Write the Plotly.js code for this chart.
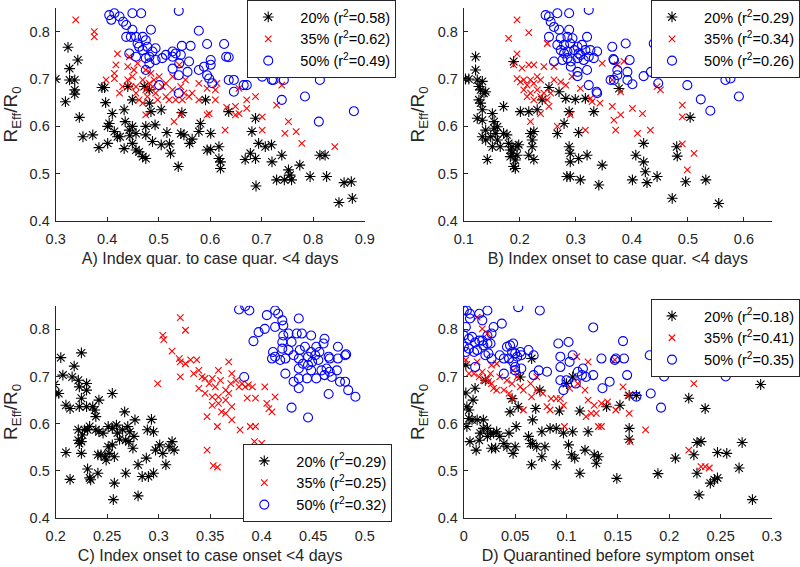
<!DOCTYPE html>
<html>
<head>
<meta charset="utf-8">
<script src="https://cdn.plot.ly/plotly-3.0.1.min.js"></script>
<style>html,body{margin:0;padding:0;background:#fff;}#chart{width:800px;height:567px;}</style>
</head>
<body>
<div id="chart"></div>
<script>
// ---------- Tick labels ----------
var tickA = [0.3,0.4,0.5,0.6,0.7,0.8,0.9];
var tickB = [0.1,0.2,0.3,0.4,0.5,0.6];
var tickC = [0.2,0.25,0.3,0.35,0.4,0.45,0.5];
var tickD = [0,0.05,0.1,0.15,0.2,0.25,0.3];
var tickY = [0.4,0.5,0.6,0.7,0.8];
var tickAtext = ["0.3","0.4","0.5","0.6","0.7","0.8","0.9"];
var tickBtext = ["0.1","0.2","0.3","0.4","0.5","0.6"];
var tickCtext = ["0.2","0.25","0.3","0.35","0.4","0.45","0.5"];
var tickDtext = ["0","0.05","0.1","0.15","0.2","0.25","0.3"];
var tickYtext = ["0.4","0.5","0.6","0.7","0.8"];

// ---------- Legend names ----------
var namesA = ["20% (r<sup>2</sup>=0.58)","35% (r<sup>2</sup>=0.62)","50% (r<sup>2</sup>=0.49)"];
var namesB = ["20% (r<sup>2</sup>=0.29)","35% (r<sup>2</sup>=0.34)","50% (r<sup>2</sup>=0.26)"];
var namesC = ["20% (r<sup>2</sup>=0.29)","35% (r<sup>2</sup>=0.25)","50% (r<sup>2</sup>=0.32)"];
var namesD = ["20% (r<sup>2</sup>=0.18)","35% (r<sup>2</sup>=0.41)","50% (r<sup>2</sup>=0.35)"];

var xTitles = ["A) Index quar. to case quar. <4 days","B) Index onset to case quar. <4 days","C) Index onset to case onset <4 days","D) Quarantined before symptom onset"];
var yTitle = "R<sub>Eff</sub>/R<sub>0</sub>";

// ---------- Panel A ----------
var aX20 = [0.324,0.30,0.327,0.327,0.337,0.343,0.337,0.337,0.319,0.346,0.353,0.372,0.384,0.39,0.395,0.397,0.401,0.401,0.404,0.41,0.414,0.42,0.425,0.433,0.433,0.435,0.44,0.443,0.444,0.449,0.449,0.449,0.456,0.456,0.462,0.469,0.472,0.475,0.475,0.482,0.482,0.485,0.475,0.488,0.493,0.505,0.505,0.516,0.521,0.523,0.538,0.543,0.545,0.549,0.56,0.565,0.578,0.581,0.591,0.594,0.601,0.601,0.617,0.617,0.62,0.62,0.636,0.668,0.678,0.681,0.688,0.688,0.689,0.694,0.707,0.719,0.72,0.729,0.739,0.744,0.752,0.755,0.758,0.774,0.794,0.813,0.823,0.826,0.85,0.86,0.874,0.876];
var aY20 = [0.767,0.70,0.722,0.698,0.698,0.740,0.677,0.668,0.652,0.619,0.578,0.582,0.555,0.682,0.682,0.650,0.60,0.564,0.606,0.627,0.589,0.578,0.578,0.635,0.553,0.61,0.684,0.592,0.580,0.656,0.60,0.564,0.585,0.55,0.546,0.536,0.684,0.532,0.60,0.677,0.649,0.631,0.582,0.568,0.603,0.635,0.561,0.587,0.563,0.543,0.515,0.585,0.629,0.582,0.564,0.573,0.589,0.606,0.656,0.55,0.585,0.551,0.557,0.532,0.511,0.525,0.631,0.53,0.543,0.589,0.617,0.532,0.474,0.564,0.557,0.561,0.525,0.487,0.539,0.487,0.508,0.497,0.487,0.518,0.494,0.539,0.539,0.494,0.439,0.481,0.483,0.448];
var aX35 = [0.339,0.375,0.375,0.42,0.417,0.414,0.414,0.398,0.443,0.44,0.44,0.43,0.424,0.449,0.456,0.456,0.462,0.469,0.475,0.475,0.478,0.482,0.485,0.488,0.491,0.494,0.498,0.501,0.507,0.514,0.514,0.52,0.527,0.527,0.53,0.533,0.54,0.543,0.546,0.549,0.543,0.552,0.559,0.565,0.578,0.578,0.594,0.598,0.594,0.61,0.61,0.613,0.632,0.629,0.649,0.656,0.649,0.671,0.671,0.688,0.701,0.701,0.729,0.739,0.752,0.745,0.767,0.778,0.842,0.656,0.469,0.475,0.446,0.452,0.459];
var aY35 = [0.825,0.80,0.789,0.753,0.73,0.712,0.701,0.698,0.747,0.726,0.698,0.684,0.67,0.705,0.684,0.67,0.656,0.698,0.719,0.677,0.663,0.691,0.712,0.684,0.698,0.67,0.656,0.705,0.684,0.691,0.663,0.656,0.705,0.677,0.61,0.656,0.73,0.684,0.656,0.67,0.624,0.698,0.663,0.67,0.656,0.691,0.624,0.627,0.68,0.656,0.677,0.691,0.64,0.592,0.624,0.627,0.642,0.656,0.638,0.663,0.62,0.592,0.645,0.687,0.61,0.585,0.589,0.564,0.557,0.68,0.649,0.624,0.684,0.719,0.733];
var aX50 = [0.404,0.414,0.424,0.408,0.431,0.437,0.449,0.466,0.539,0.449,0.485,0.437,0.446,0.456,0.469,0.475,0.578,0.459,0.462,0.443,0.469,0.478,0.488,0.494,0.545,0.562,0.594,0.627,0.475,0.482,0.475,0.494,0.507,0.514,0.527,0.533,0.527,0.543,0.527,0.54,0.559,0.556,0.578,0.588,0.601,0.601,0.631,0.636,0.594,0.598,0.604,0.501,0.539,0.539,0.636,0.646,0.646,0.665,0.671,0.681,0.685,0.701,0.701,0.72,0.723,0.743,0.739,0.784,0.811,0.813,0.879,0.456,0.482];
var aY50 = [0.835,0.839,0.832,0.825,0.821,0.814,0.839,0.839,0.844,0.804,0.804,0.789,0.789,0.789,0.789,0.782,0.802,0.775,0.768,0.754,0.761,0.768,0.758,0.765,0.77,0.77,0.774,0.774,0.744,0.733,0.719,0.74,0.744,0.751,0.758,0.754,0.747,0.751,0.722,0.733,0.737,0.715,0.719,0.726,0.74,0.73,0.747,0.746,0.708,0.701,0.691,0.687,0.708,0.67,0.698,0.698,0.673,0.687,0.687,0.737,0.715,0.722,0.705,0.698,0.698,0.698,0.656,0.663,0.61,0.698,0.632,0.747,0.747];

// ---------- Panel B ----------
var bX20 = [0.103,0.109,0.121,0.121,0.124,0.127,0.13,0.133,0.127,0.13,0.133,0.136,0.139,0.124,0.133,0.139,0.133,0.139,0.148,0.142,0.151,0.154,0.154,0.157,0.16,0.151,0.16,0.165,0.171,0.171,0.177,0.18,0.183,0.183,0.186,0.189,0.186,0.189,0.192,0.192,0.195,0.195,0.198,0.201,0.216,0.216,0.219,0.222,0.222,0.225,0.225,0.231,0.24,0.252,0.267,0.27,0.279,0.282,0.288,0.288,0.29,0.29,0.284,0.29,0.299,0.305,0.305,0.308,0.317,0.32,0.332,0.341,0.347,0.377,0.401,0.407,0.421,0.421,0.424,0.427,0.445,0.472,0.48,0.481,0.496,0.504,0.532,0.555];
var bY20 = [0.70,0.70,0.747,0.719,0.698,0.684,0.677,0.695,0.656,0.649,0.635,0.67,0.673,0.617,0.613,0.592,0.578,0.571,0.578,0.53,0.627,0.61,0.596,0.585,0.571,0.557,0.599,0.557,0.642,0.585,0.582,0.564,0.536,0.55,0.557,0.737,0.543,0.515,0.529,0.511,0.557,0.539,0.561,0.631,0.539,0.631,0.585,0.571,0.557,0.53,0.589,0.635,0.656,0.682,0.585,0.673,0.606,0.659,0.631,0.557,0.543,0.525,0.494,0.494,0.657,0.587,0.532,0.487,0.659,0.539,0.631,0.476,0.518,0.68,0.487,0.539,0.564,0.525,0.504,0.481,0.494,0.448,0.557,0.537,0.483,0.619,0.487,0.437];
var bX35 = [0.18,0.195,0.216,0.195,0.189,0.204,0.216,0.225,0.195,0.201,0.207,0.213,0.219,0.225,0.231,0.237,0.207,0.213,0.219,0.225,0.231,0.237,0.243,0.249,0.252,0.255,0.243,0.249,0.261,0.261,0.273,0.237,0.219,0.29,0.293,0.308,0.317,0.326,0.329,0.343,0.347,0.365,0.368,0.371,0.38,0.374,0.365,0.38,0.386,0.401,0.41,0.419,0.433,0.445,0.451,0.49,0.49,0.49,0.499,0.511,0.267,0.282];
var bY35 = [0.786,0.825,0.798,0.753,0.73,0.723,0.73,0.73,0.701,0.694,0.698,0.687,0.698,0.691,0.705,0.698,0.677,0.663,0.67,0.656,0.677,0.663,0.67,0.656,0.642,0.67,0.726,0.775,0.726,0.698,0.694,0.627,0.61,0.624,0.705,0.68,0.592,0.659,0.652,0.649,0.733,0.642,0.613,0.592,0.624,0.73,0.698,0.673,0.737,0.638,0.585,0.627,0.592,0.684,0.677,0.645,0.62,0.563,0.508,0.543,0.60,0.687];
var bX50 = [0.246,0.252,0.255,0.267,0.288,0.323,0.261,0.27,0.288,0.252,0.273,0.285,0.294,0.32,0.267,0.279,0.29,0.303,0.311,0.273,0.285,0.297,0.305,0.317,0.326,0.338,0.261,0.276,0.285,0.291,0.303,0.314,0.323,0.332,0.291,0.303,0.303,0.32,0.323,0.337,0.338,0.365,0.389,0.367,0.368,0.396,0.374,0.374,0.392,0.362,0.368,0.392,0.401,0.421,0.434,0.439,0.447,0.454,0.502,0.499,0.523,0.54,0.567,0.576,0.591,0.308,0.279];
var bY50 = [0.835,0.832,0.821,0.839,0.839,0.846,0.81,0.804,0.804,0.789,0.786,0.789,0.786,0.789,0.772,0.772,0.775,0.768,0.772,0.761,0.758,0.761,0.754,0.761,0.761,0.758,0.737,0.74,0.744,0.737,0.744,0.74,0.747,0.744,0.726,0.715,0.706,0.719,0.687,0.673,0.67,0.768,0.775,0.742,0.74,0.74,0.719,0.708,0.715,0.698,0.698,0.698,0.689,0.706,0.715,0.775,0.691,0.726,0.722,0.687,0.657,0.633,0.698,0.701,0.663,0.751,0.754];

// ---------- Panel C ----------
var cX20 = [0.199,0.2,0.203,0.205,0.207,0.21,0.21,0.214,0.214,0.216,0.218,0.222,0.225,0.223,0.225,0.223,0.222,0.222,0.223,0.225,0.225,0.23,0.23,0.23,0.231,0.233,0.234,0.236,0.238,0.239,0.242,0.239,0.241,0.242,0.241,0.244,0.246,0.248,0.249,0.251,0.252,0.251,0.255,0.255,0.255,0.257,0.257,0.256,0.259,0.26,0.262,0.267,0.268,0.27,0.268,0.271,0.272,0.275,0.276,0.277,0.28,0.28,0.284,0.288,0.289,0.29,0.293,0.295,0.295,0.297,0.301,0.304,0.307,0.31,0.313,0.315,0.228,0.231,0.233,0.226,0.265];
var cY20 = [0.683,0.664,0.664,0.74,0.703,0.639,0.539,0.482,0.632,0.699,0.722,0.692,0.75,0.678,0.654,0.636,0.587,0.565,0.558,0.562,0.537,0.685,0.671,0.636,0.504,0.485,0.481,0.636,0.629,0.615,0.65,0.587,0.495,0.583,0.534,0.534,0.58,0.53,0.523,0.594,0.537,0.551,0.664,0.59,0.555,0.53,0.474,0.439,0.597,0.58,0.567,0.625,0.495,0.594,0.565,0.562,0.583,0.548,0.573,0.608,0.513,0.447,0.488,0.527,0.587,0.488,0.609,0.583,0.495,0.544,0.555,0.537,0.513,0.551,0.562,0.544,0.587,0.587,0.594,0.576,0.587];
var cX35 = [0.321,0.326,0.304,0.305,0.313,0.32,0.321,0.326,0.321,0.299,0.331,0.337,0.334,0.339,0.342,0.345,0.349,0.352,0.358,0.355,0.36,0.368,0.345,0.352,0.358,0.347,0.358,0.361,0.365,0.368,0.37,0.375,0.378,0.381,0.384,0.387,0.391,0.386,0.394,0.371,0.365,0.371,0.357,0.371,0.389,0.394,0.379,0.347,0.353,0.357,0.393,0.40,0.403,0.405,0.407,0.41,0.413,0.339,0.352,0.365];
var cY35 = [0.825,0.798,0.787,0.778,0.754,0.738,0.731,0.727,0.699,0.685,0.735,0.735,0.706,0.713,0.699,0.696,0.685,0.696,0.713,0.678,0.692,0.731,0.664,0.657,0.657,0.615,0.643,0.625,0.65,0.664,0.685,0.692,0.678,0.685,0.678,0.682,0.678,0.654,0.654,0.636,0.622,0.706,0.594,0.608,0.594,0.594,0.587,0.544,0.511,0.508,0.562,0.558,0.678,0.643,0.632,0.625,0.657,0.675,0.639,0.671];
var cX50 = [0.378,0.384,0.388,0.392,0.405,0.413,0.416,0.413,0.403,0.397,0.42,0.421,0.436,0.421,0.426,0.434,0.439,0.448,0.411,0.413,0.42,0.42,0.426,0.429,0.431,0.423,0.418,0.41,0.423,0.437,0.442,0.445,0.448,0.452,0.453,0.456,0.46,0.465,0.461,0.474,0.481,0.482,0.474,0.466,0.436,0.436,0.44,0.445,0.449,0.455,0.448,0.458,0.463,0.473,0.436,0.444,0.453,0.461,0.466,0.468,0.436,0.476,0.481,0.484,0.491,0.465,0.429,0.445,0.383,0.431];
var cY50 = [0.842,0.849,0.84,0.775,0.83,0.84,0.833,0.805,0.801,0.794,0.819,0.808,0.823,0.787,0.791,0.791,0.791,0.787,0.752,0.742,0.773,0.759,0.756,0.773,0.745,0.738,0.735,0.738,0.706,0.756,0.763,0.742,0.752,0.745,0.763,0.752,0.77,0.742,0.78,0.763,0.745,0.747,0.738,0.738,0.738,0.717,0.727,0.724,0.731,0.735,0.713,0.713,0.717,0.713,0.696,0.696,0.696,0.703,0.71,0.699,0.675,0.689,0.689,0.671,0.657,0.663,0.634,0.613,0.699,0.689];

// ---------- Panel D ----------
var dX20 = [0.002,0.002,0.003,0.003,0.005,0.005,0.006,0.008,0.009,0.011,0.013,0.012,0.015,0.016,0.019,0.019,0.021,0.023,0.023,0.026,0.027,0.029,0.031,0.032,0.035,0.039,0.042,0.044,0.045,0.047,0.048,0.05,0.051,0.055,0.053,0.063,0.065,0.066,0.067,0.067,0.07,0.071,0.066,0.074,0.076,0.076,0.079,0.084,0.09,0.09,0.093,0.097,0.10,0.102,0.105,0.106,0.106,0.108,0.113,0.113,0.118,0.121,0.127,0.129,0.131,0.139,0.149,0.152,0.161,0.161,0.161,0.168,0.189,0.206,0.219,0.224,0.227,0.227,0.231,0.229,0.235,0.24,0.244,0.247,0.247,0.256,0.268,0.271,0.281,0.289];
var dY20 = [0.724,0.665,0.636,0.594,0.611,0.629,0.562,0.608,0.65,0.675,0.608,0.544,0.565,0.58,0.608,0.59,0.692,0.59,0.573,0.58,0.548,0.58,0.548,0.583,0.573,0.558,0.551,0.58,0.625,0.653,0.537,0.551,0.594,0.699,0.636,0.573,0.558,0.513,0.608,0.558,0.632,0.551,0.738,0.671,0.583,0.53,0.551,0.59,0.59,0.513,0.627,0.58,0.685,0.555,0.534,0.699,0.583,0.527,0.627,0.495,0.544,0.583,0.534,0.516,0.53,0.636,0.484,0.639,0.66,0.59,0.567,0.66,0.494,0.527,0.654,0.534,0.495,0.56,0.562,0.449,0.632,0.474,0.481,0.485,0.539,0.537,0.506,0.56,0.439,0.683];
var dX35 = [0.013,0.018,0.023,0.002,0.013,0.005,0.01,0.015,0.018,0.019,0.023,0.024,0.026,0.027,0.027,0.029,0.032,0.032,0.035,0.039,0.042,0.044,0.047,0.048,0.048,0.052,0.055,0.058,0.058,0.065,0.066,0.071,0.071,0.077,0.081,0.084,0.085,0.09,0.094,0.097,0.098,0.103,0.11,0.111,0.118,0.121,0.121,0.119,0.124,0.127,0.129,0.131,0.134,0.134,0.14,0.147,0.148,0.155,0.161,0.162,0.177,0.219,0.224,0.231,0.235,0.239,0.16];
var dY35 = [0.826,0.801,0.791,0.735,0.731,0.706,0.706,0.699,0.71,0.692,0.696,0.689,0.706,0.685,0.724,0.675,0.727,0.671,0.699,0.671,0.692,0.664,0.685,0.713,0.653,0.699,0.678,0.629,0.671,0.685,0.657,0.671,0.699,0.664,0.636,0.629,0.653,0.653,0.653,0.639,0.594,0.675,0.742,0.685,0.671,0.731,0.65,0.615,0.622,0.639,0.622,0.594,0.594,0.643,0.646,0.735,0.629,0.678,0.622,0.562,0.587,0.544,0.685,0.509,0.509,0.506,0.66];
var dX50 = [0,0.002,0.003,0.006,0.006,0.015,0.018,0.023,0.029,0.037,0.053,0.074,0.126,0,0.005,0.008,0.011,0.015,0.018,0.023,0.027,0,0.002,0.005,0.01,0.013,0.019,0.023,0.026,0.024,0.021,0.027,0.035,0.039,0.042,0.045,0.048,0.047,0.05,0.052,0.044,0.048,0.055,0.056,0.063,0.068,0.05,0.05,0.056,0.039,0.011,0.068,0.073,0.081,0.092,0.102,0.094,0.103,0.106,0.094,0.094,0.097,0.10,0.109,0.111,0.115,0.116,0.119,0.126,0.134,0.135,0.142,0.147,0.148,0.156,0.155,0.159,0.168,0.181,0.182,0.192,0.195,0.255];
var dY50 = [0.84,0.805,0.84,0.833,0.823,0.833,0.819,0.84,0.805,0.812,0.847,0.84,0.804,0.787,0.78,0.784,0.772,0.776,0.776,0.787,0.791,0.763,0.752,0.759,0.752,0.756,0.766,0.77,0.77,0.749,0.745,0.738,0.745,0.738,0.763,0.766,0.77,0.752,0.749,0.742,0.738,0.731,0.752,0.745,0.756,0.745,0.72,0.713,0.717,0.706,0.72,0.703,0.713,0.71,0.77,0.773,0.742,0.731,0.745,0.72,0.692,0.671,0.692,0.685,0.71,0.703,0.717,0.699,0.703,0.738,0.675,0.689,0.735,0.738,0.738,0.775,0.703,0.657,0.745,0.664,0.634,0.70,0.70];

// ---------- Build traces ----------
var FONT = "Liberation Sans, Arial, Helvetica, sans-serif";
var PAD = "\u00A0\u00A0\u00A0";
var styles = [
  {symbol:"asterisk-open", color:"#000000", size:9},
  {symbol:"x-thin-open", color:"#ff0000", size:6.5},
  {symbol:"circle-open", color:"#0000ff", size:9}
];
var panels = [
  {xs:[aX20,aX35,aX50], ys:[aY20,aY35,aY50], names:namesA, xa:"x", ya:"y", lg:"legend"},
  {xs:[bX20,bX35,bX50], ys:[bY20,bY35,bY50], names:namesB, xa:"x2", ya:"y2", lg:"legend2"},
  {xs:[cX20,cX35,cX50], ys:[cY20,cY35,cY50], names:namesC, xa:"x3", ya:"y3", lg:"legend3"},
  {xs:[dX20,dX35,dX50], ys:[dY20,dY35,dY50], names:namesD, xa:"x4", ya:"y4", lg:"legend4"}
];
var traces = [];
panels.forEach(function(p){
  for (var i=0;i<3;i++){
    var s = styles[i];
    traces.push({
      type:"scatter", mode:"markers",
      x:p.xs[i], y:p.ys[i], name:PAD + p.names[i],
      xaxis:p.xa, yaxis:p.ya, legend:p.lg,
      marker:{symbol:s.symbol, size:s.size, color:s.color, line:{color:s.color, width:1.1}},
      hoverinfo:"x+y"
    });
  }
});

function xAxis(domain, range, tv, tt, title, anchor){
  return {domain:domain, range:range, tickvals:tv, ticktext:tt, anchor:anchor,
    showline:true, linecolor:"#262626", linewidth:1, ticks:"inside", ticklen:4, tickcolor:"#262626",
    ticklabelstandoff:5,
    showgrid:false, zeroline:false, tickfont:{family:FONT, size:14.5, color:"#262626"},
    title:{text:title, font:{family:FONT, size:16, color:"#262626"}, standoff:6}, automargin:false, fixedrange:true};
}
function yAxis(domain, anchor){
  return {domain:domain, range:[0.4,0.85], tickvals:tickY, ticktext:tickYtext, anchor:anchor,
    showline:true, linecolor:"#262626", linewidth:1, ticks:"inside", ticklen:4, tickcolor:"#262626",
    ticklabelstandoff:2,
    showgrid:false, zeroline:false, tickfont:{family:FONT, size:14.5, color:"#262626"},
    title:{text:yTitle, font:{family:FONT, size:19, color:"#262626"}, standoff:8}, automargin:false, fixedrange:true};
}
function legendAt(x, y){
  return {x:x, y:y, xanchor:"left", yanchor:"top", xref:"paper", yref:"paper",
    bgcolor:"#ffffff", bordercolor:"#262626", borderwidth:1,
    font:{family:FONT, size:14.5, color:"#000000"}, tracegroupgap:0};
}

var xdL = [0.07, 0.45875], xdR = [0.5834, 0.971];
var ydT = [0.6102, 0.9859], ydB = [0.0864, 0.4608];

var layout = {
  width:800, height:567,
  margin:{l:0, r:0, t:0, b:0},
  paper_bgcolor:"#ffffff", plot_bgcolor:"#ffffff",
  font:{family:FONT, color:"#262626"},
  xaxis: xAxis(xdL, [0.3,0.9], tickA, tickAtext, xTitles[0], "y"),
  yaxis: yAxis(ydT, "x"),
  xaxis2: xAxis(xdR, [0.1,0.65], tickB, tickBtext, xTitles[1], "y2"),
  yaxis2: yAxis(ydT, "x2"),
  xaxis3: xAxis(xdL, [0.2,0.5], tickC, tickCtext, xTitles[2], "y3"),
  yaxis3: yAxis(ydB, "x3"),
  xaxis4: xAxis(xdR, [0,0.3], tickD, tickDtext, xTitles[3], "y4"),
  yaxis4: yAxis(ydB, "x4"),
  legend: legendAt(0.311, 1.0),
  legend2: legendAt(0.819, 1.0),
  legend3: legendAt(0.306, 0.217),
  legend4: legendAt(0.819, 0.4727),
  showlegend:true
};

Plotly.newPlot("chart", traces, layout, {displayModeBar:false, staticPlot:true});
</script>
</body>
</html>
